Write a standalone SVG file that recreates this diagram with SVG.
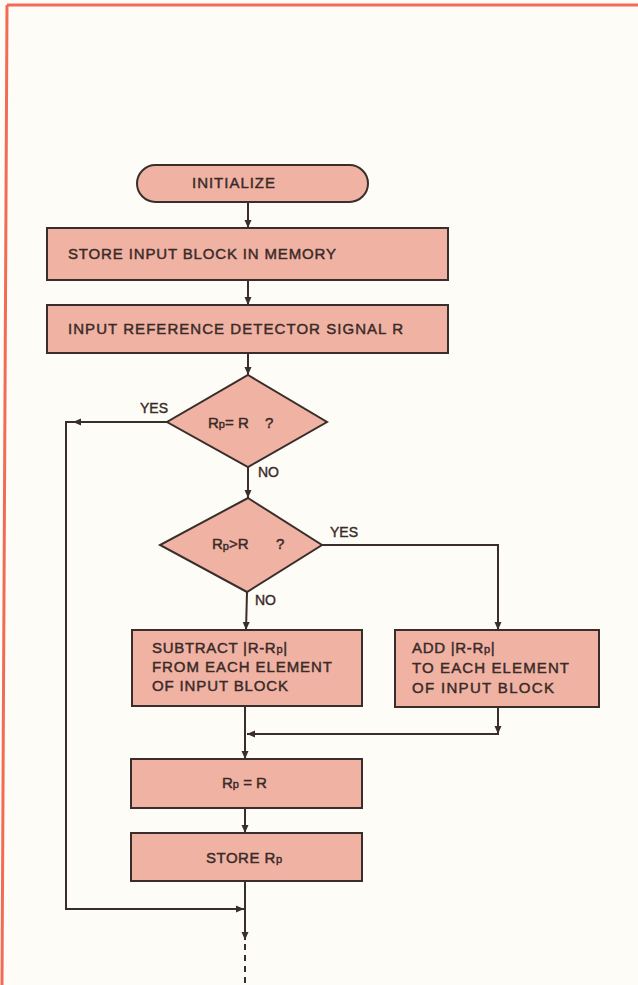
<svg xmlns="http://www.w3.org/2000/svg" width="638" height="985" viewBox="0 0 638 985">
<style>
.shape{fill:#f0b3a3;stroke:#3a2e2c;stroke-width:2}
.conn{fill:none;stroke:#3a2e2c;stroke-width:2}
.t{font-family:"Liberation Sans",Arial,sans-serif;font-size:15px;fill:#3a2a28;stroke:#3a2a28;stroke-width:0.45}
.lbl{font-family:"Liberation Sans",Arial,sans-serif;font-size:14px;fill:#3a2a28;stroke:#3a2a28;stroke-width:0.4}
.sub{font-size:11px}
</style>
<defs>
<marker id="arr" markerUnits="userSpaceOnUse" markerWidth="8" markerHeight="8" refX="8" refY="4" orient="auto">
<path d="M0,0.5 L8,4 L0,7.5 z" fill="#3a2e2c"/>
</marker>
</defs>
<rect x="0" y="0" width="638" height="985" fill="#fdfcf7"/>
<path d="M7,5 H638 M7,5 L2,985" fill="none" stroke="#f26b55" stroke-width="3"/>

<g id="connectors">
<line class="conn" x1="248" y1="202" x2="248" y2="228" marker-end="url(#arr)"/>
<line class="conn" x1="248" y1="280" x2="248" y2="305" marker-end="url(#arr)"/>
<line class="conn" x1="248" y1="353" x2="248" y2="375" marker-end="url(#arr)"/>
<line class="conn" x1="248" y1="467" x2="248" y2="498" marker-end="url(#arr)"/>
<line class="conn" x1="167" y1="422" x2="73" y2="422" marker-end="url(#arr)"/>
<path class="conn" d="M74,422 H66 V909 H244" marker-end="url(#arr)"/>
<line class="conn" x1="247" y1="592" x2="246" y2="630" marker-end="url(#arr)"/>
<path class="conn" d="M322,545 H498 V630" marker-end="url(#arr)"/>
<line class="conn" x1="498" y1="707" x2="498" y2="734" marker-end="url(#arr)"/>
<path class="conn" d="M498,733 V734 H247" marker-end="url(#arr)"/>
<line class="conn" x1="245" y1="706" x2="245" y2="759" marker-end="url(#arr)"/>
<line class="conn" x1="245" y1="808" x2="245" y2="833" marker-end="url(#arr)"/>
<line class="conn" x1="245" y1="881" x2="245" y2="940" marker-end="url(#arr)"/>
<line class="conn" x1="245" y1="944" x2="245" y2="985" stroke-dasharray="6,5"/>
</g>

<g id="initialize">
<rect class="shape" x="137" y="165" width="231" height="37" rx="18.5"/>
<text class="t" x="192" y="188" textLength="83">INITIALIZE</text>
</g>
<g id="store-input">
<rect class="shape" x="47" y="228" width="401" height="52"/>
<text class="t" x="68" y="259" textLength="268" lengthAdjust="spacing">STORE  INPUT  BLOCK  IN  MEMORY</text>
</g>
<g id="input-ref">
<rect class="shape" x="47" y="305" width="401" height="48"/>
<text class="t" x="68" y="334" textLength="335" lengthAdjust="spacing">INPUT  REFERENCE  DETECTOR  SIGNAL  R</text>
</g>
<g id="decision-eq">
<polygon class="shape" points="248,375 327,422 248,467 167,422"/>
<text class="t" x="208" y="428">R<tspan class="sub">p</tspan>= R<tspan x="265">?</tspan></text>
</g>
<g id="decision-gt">
<polygon class="shape" points="248,498 322,545 247,592 160,545"/>
<text class="t" x="212" y="549">R<tspan class="sub" dy="1">p</tspan><tspan dy="-1">&gt;R</tspan><tspan x="276">?</tspan></text>
</g>
<g id="subtract">
<rect class="shape" x="132" y="630" width="230" height="76"/>
<text class="t" x="152" y="653" letter-spacing="0.7">SUBTRACT  |R-R<tspan class="sub">p</tspan>|</text>
<text class="t" x="152" y="672" textLength="180" lengthAdjust="spacing">FROM  EACH  ELEMENT</text>
<text class="t" x="152" y="691" textLength="136" lengthAdjust="spacing">OF  INPUT  BLOCK</text>
</g>
<g id="add">
<rect class="shape" x="395" y="630" width="204" height="77"/>
<text class="t" x="412" y="653" letter-spacing="0.7">ADD  |R-R<tspan class="sub">p</tspan>|</text>
<text class="t" x="412" y="673" textLength="157" lengthAdjust="spacing">TO  EACH  ELEMENT</text>
<text class="t" x="412" y="693" textLength="142" lengthAdjust="spacing">OF  INPUT  BLOCK</text>
</g>
<g id="assign">
<rect class="shape" x="131" y="759" width="231" height="49"/>
<text class="t" x="222" y="788">R<tspan class="sub">p</tspan> = R</text>
</g>
<g id="store-rp">
<rect class="shape" x="131" y="833" width="231" height="48"/>
<text class="t" x="206" y="863" letter-spacing="0.5">STORE  R<tspan class="sub">p</tspan></text>
</g>
<g id="labels">
<text class="lbl" x="140" y="413">YES</text>
<text class="lbl" x="258" y="477">NO</text>
<text class="lbl" x="330" y="537">YES</text>
<text class="lbl" x="255" y="605">NO</text>
</g>
</svg>
